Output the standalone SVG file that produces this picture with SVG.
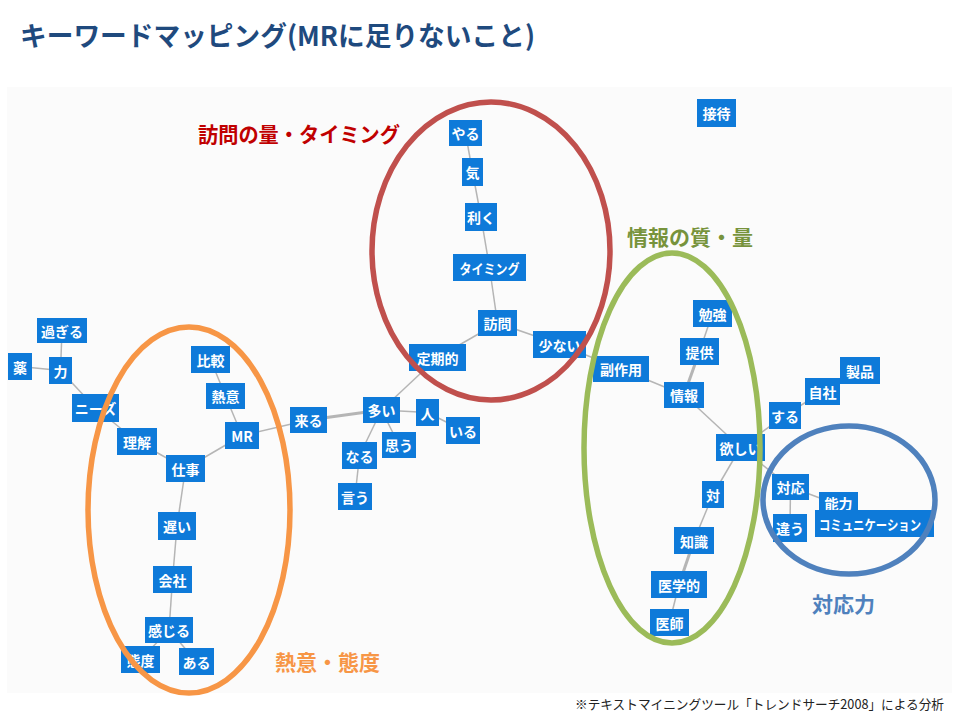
<svg xmlns="http://www.w3.org/2000/svg" width="960" height="720" viewBox="0 0 960 720">
<style>
.nd rect{fill:#0e7ad9}
.nd text{fill:#fff;font-family:"Noto Sans CJK JP","Noto Sans",sans-serif;font-weight:bold;font-size:14px;text-anchor:middle;dominant-baseline:central}
.e line{stroke:#b5b5b5;stroke-width:1.5}
.e line.t{stroke-width:3}
.ring{fill:none;stroke-width:5.5}
.lab{font-family:"Noto Sans CJK JP",sans-serif;font-weight:bold;font-size:21px}
</style>
<rect x="0" y="0" width="960" height="720" fill="#ffffff"/>
<rect x="7" y="87" width="945" height="606" fill="#fbfbfb"/>
<text x="20" y="46" font-family="'Noto Sans CJK JP',sans-serif" font-weight="bold" font-size="27" fill="#1f4a7e" textLength="515" lengthAdjust="spacingAndGlyphs">キーワードマッピング(MRに足りないこと)</text>

<g id="edges" class="e">
<line x1="62" y1="330.5" x2="60.5" y2="370.5"/>
<line x1="20" y1="366.5" x2="60.5" y2="370.5"/>
<line x1="60.5" y1="370.5" x2="95.5" y2="408"/>
<line x1="95.5" y1="408" x2="137" y2="441.5"/>
<line x1="137" y1="441.5" x2="185.5" y2="468.5"/>
<line x1="185.5" y1="468.5" x2="242" y2="435.5"/>
<line x1="242" y1="435.5" x2="225.5" y2="396"/>
<line x1="225.5" y1="396" x2="210.5" y2="359.5"/>
<line x1="185.5" y1="468.5" x2="177" y2="526"/>
<line x1="177" y1="526" x2="172.5" y2="579.5"/>
<line x1="172.5" y1="579.5" x2="169" y2="630"/>
<line x1="169" y1="630" x2="140.5" y2="659.5"/>
<line x1="169" y1="630" x2="196.5" y2="661.5"/>
<line x1="242" y1="435.5" x2="308.5" y2="420"/>
<line class="t" x1="308.5" y1="420" x2="381.5" y2="410"/>
<line x1="381.5" y1="410" x2="437.5" y2="357.5"/>
<line x1="437.5" y1="357.5" x2="497.5" y2="323"/>
<line x1="497.5" y1="323" x2="489.5" y2="267.5"/>
<line x1="489.5" y1="267.5" x2="481" y2="217"/>
<line x1="481" y1="217" x2="472.5" y2="172"/>
<line x1="472.5" y1="172" x2="465.5" y2="133"/>
<line x1="497.5" y1="323" x2="559.5" y2="344.5"/>
<line x1="559.5" y1="344.5" x2="621" y2="369"/>
<line x1="621" y1="369" x2="684" y2="395"/>
<line class="t" x1="684" y1="395" x2="699.5" y2="351.5"/>
<line x1="699.5" y1="351.5" x2="712.5" y2="313.5"/>
<line x1="684" y1="395" x2="740.5" y2="447.5"/>
<line x1="740.5" y1="447.5" x2="785" y2="415.5"/>
<line x1="785" y1="415.5" x2="822.5" y2="391.5"/>
<line x1="822.5" y1="391.5" x2="860" y2="370.5"/>
<line x1="740.5" y1="447.5" x2="713" y2="494.5"/>
<line x1="713" y1="494.5" x2="694" y2="540.5"/>
<line class="t" x1="694" y1="540.5" x2="679" y2="584.5"/>
<line x1="679" y1="584.5" x2="669.5" y2="622.5"/>
<line x1="740.5" y1="447.5" x2="790.5" y2="487"/>
<line x1="790.5" y1="487" x2="790" y2="528"/>
<line x1="790.5" y1="487" x2="838.5" y2="505"/>
<line x1="381.5" y1="410" x2="427.5" y2="412.5"/>
<line x1="427.5" y1="412.5" x2="463" y2="430.5"/>
<line x1="381.5" y1="410" x2="399" y2="445"/>
<line x1="381.5" y1="410" x2="359.5" y2="455.5"/>
<line x1="359.5" y1="455.5" x2="355" y2="496.5"/>
</g>

<g id="n-sugiru" class="nd"><rect x="37" y="318" width="50" height="25"/><text x="62" y="330.5">過ぎる</text></g>
<g id="n-kusuri" class="nd"><rect x="8" y="353" width="24" height="27"/><text x="20" y="366.5">薬</text></g>
<g id="n-chikara" class="nd"><rect x="49" y="357" width="23" height="27"/><text x="60.5" y="370.5">力</text></g>
<g id="n-needs" class="nd"><rect x="72" y="394" width="47" height="28"/><text x="95.5" y="408">ニーズ</text></g>
<g id="n-rikai" class="nd"><rect x="117" y="428" width="40" height="27"/><text x="137" y="441.5">理解</text></g>
<g id="n-shigoto" class="nd"><rect x="166" y="455" width="39" height="27"/><text x="185.5" y="468.5">仕事</text></g>
<g id="n-hikaku" class="nd"><rect x="191" y="346" width="39" height="27"/><text x="210.5" y="359.5">比較</text></g>
<g id="n-netsui" class="nd"><rect x="206" y="383" width="39" height="26"/><text x="225.5" y="396">熱意</text></g>
<g id="n-mr" class="nd"><rect x="225" y="422" width="34" height="27"/><text x="242" y="435.5">MR</text></g>
<g id="n-kuru" class="nd"><rect x="290" y="407" width="37" height="26"/><text x="308.5" y="420">来る</text></g>
<g id="n-osoi" class="nd"><rect x="158" y="512" width="38" height="28"/><text x="177" y="526">遅い</text></g>
<g id="n-kaisha" class="nd"><rect x="153" y="566" width="39" height="27"/><text x="172.5" y="579.5">会社</text></g>
<g id="n-kanjiru" class="nd"><rect x="145" y="617" width="48" height="26"/><text x="169" y="630">感じる</text></g>
<g id="n-taido" class="nd"><rect x="121" y="646" width="39" height="27"/><text x="140.5" y="659.5">態度</text></g>
<g id="n-aru" class="nd"><rect x="179" y="648" width="35" height="27"/><text x="196.5" y="661.5">ある</text></g>
<g id="n-yaru" class="nd"><rect x="449" y="120" width="33" height="26"/><text x="465.5" y="133">やる</text></g>
<g id="n-ki" class="nd"><rect x="462" y="158" width="21" height="28"/><text x="472.5" y="172">気</text></g>
<g id="n-kiku" class="nd"><rect x="465" y="203" width="32" height="28"/><text x="481" y="217">利く</text></g>
<g id="n-timing" class="nd"><rect x="453" y="254" width="73" height="27"/><text x="489.5" y="267.5" textLength="60" lengthAdjust="spacingAndGlyphs">タイミング</text></g>
<g id="n-houmon" class="nd"><rect x="478" y="310" width="39" height="26"/><text x="497.5" y="323">訪問</text></g>
<g id="n-sukunai" class="nd"><rect x="533" y="331" width="53" height="27"/><text x="559.5" y="344.5">少ない</text></g>
<g id="n-teikiteki" class="nd"><rect x="409" y="344" width="57" height="27"/><text x="437.5" y="357.5">定期的</text></g>
<g id="n-ooi" class="nd"><rect x="363" y="397" width="37" height="26"/><text x="381.5" y="410">多い</text></g>
<g id="n-hito" class="nd"><rect x="416" y="399" width="23" height="27"/><text x="427.5" y="412.5">人</text></g>
<g id="n-iru" class="nd"><rect x="446" y="417" width="34" height="27"/><text x="463" y="430.5">いる</text></g>
<g id="n-omou" class="nd"><rect x="382" y="432" width="34" height="26"/><text x="399" y="445">思う</text></g>
<g id="n-naru" class="nd"><rect x="342" y="442" width="35" height="27"/><text x="359.5" y="455.5">なる</text></g>
<g id="n-iu" class="nd"><rect x="338" y="483" width="34" height="27"/><text x="355" y="496.5">言う</text></g>
<g id="n-benkyou" class="nd"><rect x="693" y="300" width="39" height="27"/><text x="712.5" y="313.5">勉強</text></g>
<g id="n-teikyou" class="nd"><rect x="680" y="338" width="39" height="27"/><text x="699.5" y="351.5">提供</text></g>
<g id="n-fukusayou" class="nd"><rect x="593" y="356" width="56" height="26"/><text x="621" y="369">副作用</text></g>
<g id="n-jouhou" class="nd"><rect x="664" y="382" width="40" height="26"/><text x="684" y="395">情報</text></g>
<g id="n-hoshii" class="nd"><rect x="716" y="434" width="49" height="27"/><text x="740.5" y="447.5">欲しい</text></g>
<g id="n-suru" class="nd"><rect x="769" y="402" width="32" height="27"/><text x="785" y="415.5">する</text></g>
<g id="n-tai" class="nd"><rect x="702" y="481" width="22" height="27"/><text x="713" y="494.5">対</text></g>
<g id="n-chishiki" class="nd"><rect x="674" y="527" width="40" height="27"/><text x="694" y="540.5">知識</text></g>
<g id="n-igakuteki" class="nd"><rect x="651" y="571" width="56" height="27"/><text x="679" y="584.5">医学的</text></g>
<g id="n-ishi" class="nd"><rect x="650" y="609" width="39" height="27"/><text x="669.5" y="622.5">医師</text></g>
<g id="n-settai" class="nd"><rect x="697" y="99" width="39" height="28"/><text x="716.5" y="113">接待</text></g>
<g id="n-seihin" class="nd"><rect x="840" y="357" width="40" height="27"/><text x="860" y="370.5">製品</text></g>
<g id="n-jisha" class="nd"><rect x="805" y="378" width="35" height="27"/><text x="822.5" y="391.5">自社</text></g>
<g id="n-taiou" class="nd"><rect x="772" y="474" width="37" height="26"/><text x="790.5" y="487">対応</text></g>
<g id="n-chigau" class="nd"><rect x="773" y="514" width="34" height="28"/><text x="790" y="528">違う</text></g>
<g id="n-nouryoku" class="nd"><rect x="819" y="492" width="39" height="26"/><text x="838.5" y="503">能力</text></g>
<g id="n-comm" class="nd"><rect x="815" y="510" width="119" height="27"/><text x="870" y="523.5" textLength="102" lengthAdjust="spacingAndGlyphs">コミュニケーション</text></g>

<g id="rings">
<ellipse class="ring" cx="491" cy="251" rx="119" ry="149" stroke="#c0504d"/>
<ellipse class="ring" cx="189" cy="510" rx="101" ry="183" stroke="#f79646"/>
<ellipse class="ring" cx="672" cy="448" rx="88" ry="195" stroke="#9bbb59"/>
<ellipse class="ring" cx="849" cy="500" rx="86" ry="74" stroke="#4f81bd"/>
</g>

<g id="labels">
<text class="lab" x="198" y="142" fill="#c00000" textLength="202" lengthAdjust="spacingAndGlyphs">訪問の量・タイミング</text>
<text class="lab" x="627" y="245" fill="#77933c">情報の質・量</text>
<text class="lab" x="275" y="670" fill="#f79646">熱意・態度</text>
<text class="lab" x="812" y="612" fill="#4f81bd">対応力</text>
<text x="575" y="709" font-family="'Noto Sans CJK JP',sans-serif" font-size="13" fill="#222" textLength="369" lengthAdjust="spacingAndGlyphs">※テキストマイニングツール「トレンドサーチ2008」による分析</text>
</g>
</svg>
